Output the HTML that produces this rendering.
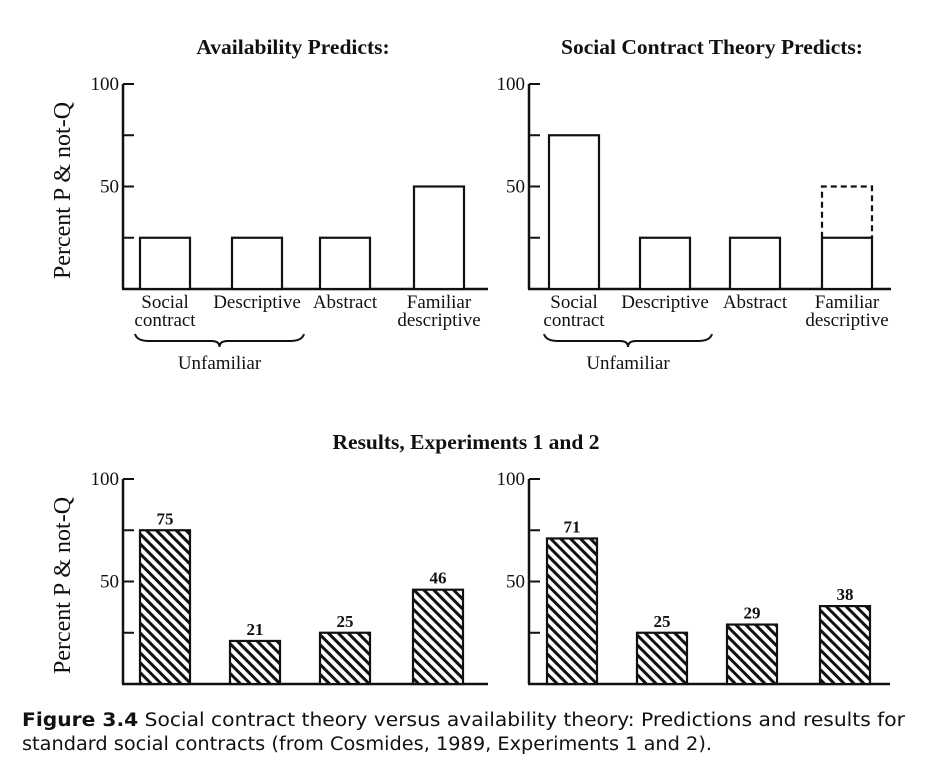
<!DOCTYPE html>
<html><head><meta charset="utf-8"><style>
body{margin:0;background:#fff}
svg{display:block}
.t{font-family:"Liberation Serif",serif;fill:#111}
.c{font-family:"DejaVu Sans","Liberation Sans",sans-serif;fill:#111}
</style></head><body>
<svg id="fig" width="931" height="774" viewBox="0 0 931 774" xmlns="http://www.w3.org/2000/svg">
<text class="t" x="293" y="54" text-anchor="middle" font-size="21.5" font-weight="bold">Availability Predicts:</text>
<text class="t" x="712" y="54" text-anchor="middle" font-size="21.5" font-weight="bold">Social Contract Theory Predicts:</text>
<text class="t" x="466" y="449" text-anchor="middle" font-size="21.5" font-weight="bold">Results, Experiments 1 and 2</text>
<text class="c" x="22" y="726" font-size="18.5" textLength="883" lengthAdjust="spacingAndGlyphs"><tspan font-weight="bold">Figure 3.4</tspan>   Social contract theory versus availability theory: Predictions and results for</text>
<text class="c" x="22" y="750" font-size="18.5" textLength="690" lengthAdjust="spacingAndGlyphs">standard social contracts (from Cosmides, 1989, Experiments 1 and 2).</text>
<defs><pattern id="hatch" patternUnits="userSpaceOnUse" width="7" height="7" patternTransform="rotate(-45)"><rect width="7" height="7" fill="#fff"/><rect width="3" height="7" fill="#111"/></pattern></defs>
</svg>
<script>
const categories=["Social contract","Descriptive","Abstract","Familiar descriptive"];
const availValues=[25,25,25,50];
const socialValues=[75,25,25,25];
const socialDashedValues=[null,null,null,50];
const exp1Values=[75,21,25,46];
const exp2Values=[71,25,29,38];
const yTicks=[0,25,50,75,100];
const yTickLabels=["","","50","","100"];

const NS="http://www.w3.org/2000/svg";
const svg=document.getElementById('fig');
function mk(tag,attrs,parent){const e=document.createElementNS(NS,tag);for(const k in attrs)e.setAttribute(k,attrs[k]);(parent||svg).appendChild(e);return e;}

function panel(name,ax,axEnd,y0,y100,barX,values,opts){
  const g=mk('g',{});
  
  
  const y=v=>y0-(y0-y100)*v/100;
  const bw=50;
  const yl=mk('line',{x1:ax,y1:y(100),x2:ax,y2:y0,stroke:'#111','stroke-width':2.5},g);
  
  
  const xl=mk('line',{x1:ax-1,y1:y0,x2:axEnd,y2:y0,stroke:'#111','stroke-width':2.5},g);
  
  
  yTicks.forEach((t,i)=>{
    if(t===0)return;
    const tk=mk('line',{x1:ax,y1:y(t),x2:ax+11,y2:y(t),stroke:'#111','stroke-width':2},g);
    
    
    if(yTickLabels[i]){
      const tl=mk('text',{class:'t',x:ax-4,y:y(t)+6,'text-anchor':'end','font-size':19},g);
      tl.textContent=yTickLabels[i];
      
      
    }
  });
  values.forEach((v,i)=>{
    const r=mk('rect',{x:barX[i],y:y(v),width:bw,height:y0-y(v),fill:opts.hatch?'url(#hatch)':'#fff',stroke:'#111','stroke-width':2.2},g);
    
    
    if(opts.dashed&&opts.dashed[i]!=null){
      const d=mk('path',{d:`M${barX[i]},${y(v)} V${y(opts.dashed[i])} H${barX[i]+bw} V${y(v)}`,fill:'none',stroke:'#111','stroke-width':2.2,'stroke-dasharray':'6,4'},g);
      
      
    }
    if(opts.labels){
      const vl=mk('text',{class:'t',x:barX[i]+bw/2,y:y(v)-6,'text-anchor':'middle','font-size':17,'font-weight':'bold'},g);
      vl.textContent=String(v);
      
      
    }
  });
  if(opts.cats){
    const lines=[["Social","contract"],["Descriptive"],["Abstract"],["Familiar","descriptive"]];
    lines.forEach((ls,i)=>{
      ls.forEach((s,j)=>{
        const cl=mk('text',{class:'t',x:barX[i]+bw/2,y:y0+19+j*18,'text-anchor':'middle','font-size':19},g);
        cl.textContent=s;
        
        
      });
    });
    const bx1=barX[0]-5,bx2=barX[1]+bw+22,by=y0+45,mid=(bx1+bx2)/2;
    const br=mk('path',{d:`M${bx1},${by} Q${bx1+2},${by+7} ${bx1+14},${by+7} L${mid-8},${by+7} Q${mid},${by+7} ${mid},${by+13} Q${mid},${by+7} ${mid+8},${by+7} L${bx2-14},${by+7} Q${bx2-2},${by+7} ${bx2},${by}`,fill:'none',stroke:'#111','stroke-width':2},g);
    
    
    const ul=mk('text',{class:'t',x:mid,y:by+35,'text-anchor':'middle','font-size':19},g);
    ul.textContent='Unfamiliar';
    
    
  }
  if(opts.ytitle){
    const yt=mk('text',{class:'t',x:0,y:0,'text-anchor':'middle','font-size':24,transform:`translate(70,${(y0+y100)/2+4}) rotate(-90)`},g);
    yt.textContent='Percent P & not-Q';
    
    
  }
}
panel('availability-chart',123,488,289,84,[140,232,320,414],availValues,{cats:true,ytitle:true});
panel('social-contract-chart',529,891,289,84,[549,640,730,822],socialValues,{cats:true,dashed:socialDashedValues});
panel('experiment-1-chart',123,488,684,479,[140,230,320,413],exp1Values,{hatch:true,labels:true,ytitle:true});
panel('experiment-2-chart',529,890,684,479,[547,637,727,820],exp2Values,{hatch:true,labels:true});
</script>
</body></html>
